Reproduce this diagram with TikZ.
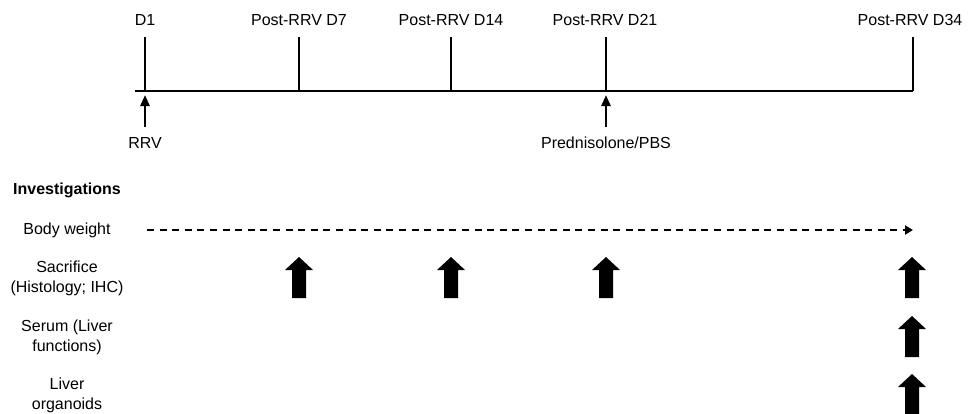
\documentclass[tikz,border=0pt]{standalone}
\usepackage{fontspec}
\setmainfont{Liberation Sans}
\usetikzlibrary{arrows.meta}
\begin{document}
\begin{tikzpicture}[x=1pt,y=-1pt,
  lbl/.style={inner sep=0pt,font=\fontsize{16}{20}\selectfont,align=center},
  tl/.style={line width=1.6pt},
  tick/.style={line width=1.4pt},
  smallarrow/.style={line width=2.6pt,-{Triangle[length=11pt,width=9pt]}},
  dashline/.style={line width=2pt,dash pattern=on 7pt off 5.6pt,-{Triangle[length=8pt,width=9pt]}},
  blockarrow/.pic={\fill[black] (0,0) -- (14,13) -- (7,13) -- (7,41) -- (-7,41) -- (-7,13) -- (-14,13) -- cycle;}
]
\useasboundingbox (0,0) rectangle (976,413);
% timeline
\coordinate (L) at (135,91);
\coordinate (R) at (913,91);
\draw[tl] (L) -- (R);
\foreach \n/\x in {a/145,b/299,c/451,d/606,e/913}{
  \coordinate (\n) at (\x,91);
  \coordinate (\n top) at (\x,37);
  \draw[tick] (\n top) -- (\n);
}
\node[lbl] (la) at (145,20) {D1};
\node[lbl] (lb) at (299,20) {Post-RRV D7};
\node[lbl] (lc) at (451,20) {Post-RRV D14};
\node[lbl] (ld) at (605,20) {Post-RRV D21};
\node[lbl] (le) at (910,20) {Post-RRV D34};
% small arrows
\coordinate (sa) at (145,127);
\coordinate (sd) at (606,127);
\coordinate (sat) at (145,95);
\coordinate (sdt) at (606,95);
\draw[smallarrow] (sa) -- (sat);
\draw[smallarrow] (sd) -- (sdt);
\node[lbl] (rrv) at (145,143) {RRV};
\node[lbl] (pred) at (606,143) {Prednisolone/PBS};
% investigations
\node[lbl,anchor=west,font=\fontsize{16}{20}\selectfont\bfseries] (inv) at (13,190) {Investigations};
\node[lbl] (bw) at (67,230) {Body weight};
\node[lbl] (sac) at (67,278) {Sacrifice\\(Histology; IHC)};
\node[lbl] (ser) at (67,337) {Serum (Liver\\functions)};
\node[lbl] (org) at (67,395) {Liver\\organoids};
\coordinate (bws) at (147,230);
\coordinate (bwe) at (913,230);
\draw[dashline] (bws) -- (bwe);
% block arrows
\pic at (299,257) {blockarrow};
\pic at (451,257) {blockarrow};
\pic at (606,257) {blockarrow};
\pic at (912,257) {blockarrow};
\pic at (912,316) {blockarrow};
\pic at (912,374) {blockarrow};
\end{tikzpicture}
\end{document}
